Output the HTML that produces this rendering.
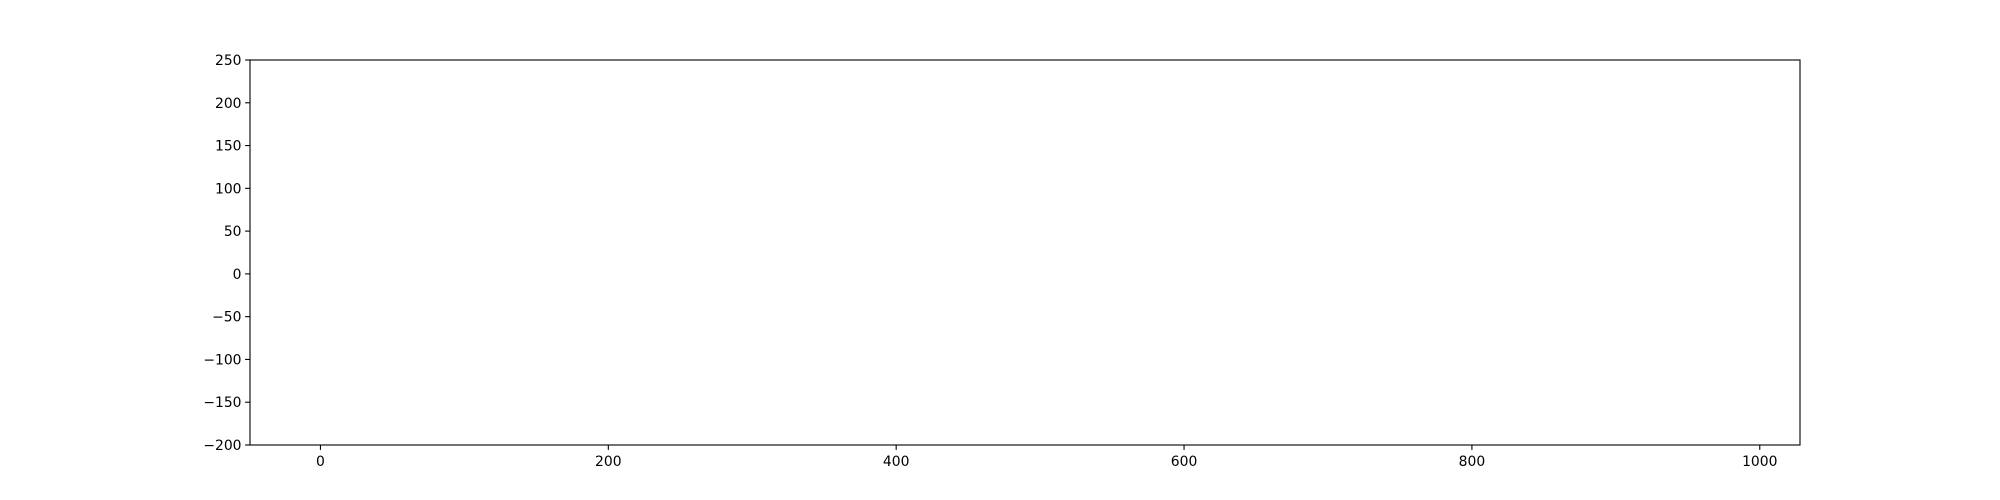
<!DOCTYPE html>
<html><head><meta charset="utf-8"><style>
html,body{margin:0;padding:0;background:#fff;}
svg{display:block;font-family:"DejaVu Sans","Liberation Sans",sans-serif;}
</style></head><body>
<svg id="chart" width="2000" height="500" xmlns="http://www.w3.org/2000/svg">
<rect x="0" y="0" width="2000" height="500" fill="#fff"/>
<g id="axes"></g>
</svg>
<script>
const xTicks = [0, 200, 400, 600, 800, 1000];
const yTicks = [-200, -150, -100, -50, 0, 50, 100, 150, 200, 250];
const xDomain = [-48.95, 1027.95];
const yDomain = [-200, 250];
const L=250,R=1800,T=60,B=445;
const sx=v=>L+(v-xDomain[0])/(xDomain[1]-xDomain[0])*(R-L);
const sy=v=>B-(v-yDomain[0])/(yDomain[1]-yDomain[0])*(B-T);
const NS="http://www.w3.org/2000/svg";
const g=document.getElementById('axes');
function mk(tag,attrs){const e=document.createElementNS(NS,tag);for(const k in attrs)e.setAttribute(k,attrs[k]);g.appendChild(e);return e;}
const fmt=v=>v<0?'\u2212'+Math.abs(v):String(v);
xTicks.forEach(v=>{
  const x=sx(v);
  const t=mk('line',{x1:x,y1:B,x2:x,y2:B+4.9,stroke:'#000','stroke-width':1.1});
  
  
  const l=mk('text',{x:x,y:B+21,'font-size':13.9,'text-anchor':'middle',fill:'#000'});
  l.textContent=fmt(v);
  
  
});
yTicks.forEach(v=>{
  const y=sy(v);
  const t=mk('line',{x1:L-4.9,y1:y,x2:L,y2:y,stroke:'#000','stroke-width':1.1});
  
  
  const l=mk('text',{x:L-8.5,y:y+5,'font-size':13.9,'text-anchor':'end',fill:'#000'});
  l.textContent=fmt(v);
  
  
});
const frame=mk('rect',{x:L,y:T,width:R-L,height:B-T,fill:'none',stroke:'#000','stroke-width':1.1});


</script>
</body></html>
